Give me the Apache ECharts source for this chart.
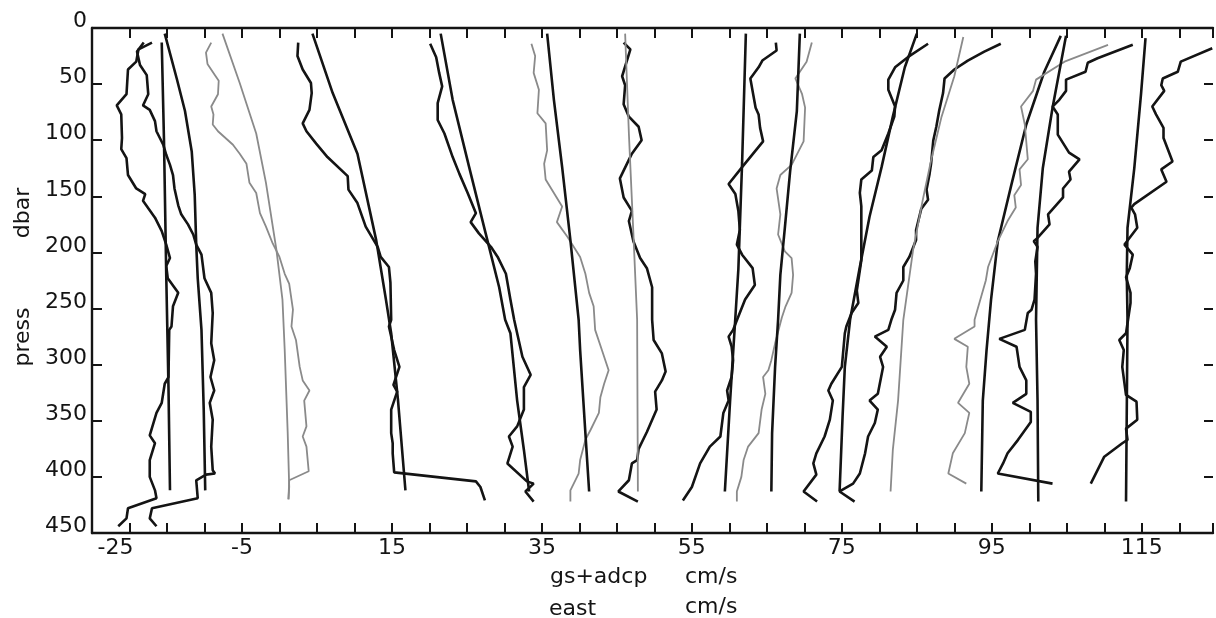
<!DOCTYPE html>
<html lang="en">
<head>
	<meta charset="UTF-8">
	<title>gs+adcp east profiles</title>
	<script src="https://cdn.jsdelivr.net/npm/echarts@6/dist/echarts.min.js"></script>
	<style>
		html, body { margin: 0; padding: 0; background: #fff; }
		#chart { width: 1216px; height: 618px; }
	</style>
</head>
<body>
	<div id="chart"></div>

	<script>
		// x tick labels (the first label sits on the -20 tick, as in the plot)
		var xLabelValues = [-20, -5, 15, 35, 55, 75, 95, 115];
		var xLabelTexts = ['-25', '-5', '15', '35', '55', '75', '95', '115'];

		// profiles: [east cm/s (offset), press dbar]
		var prof01 = [[-17,13],[-18.8,19],[-19.1,30],[-20.2,37],[-20.4,59],[-21.7,69],[-21.1,77],[-21,98],[-21.1,108],[-20.4,116],[-20.2,131],[-19.1,143],[-17.9,148],[-18.2,154],[-16.6,169],[-15.7,181],[-15.1,193],[-14.6,205],[-15.1,212],[-14.9,223],[-13.5,236],[-14.2,248],[-14.4,266],[-14.7,269],[-14.8,311],[-15.3,317],[-15.7,334],[-16.4,343],[-17.3,363],[-16.6,370],[-17.3,385],[-17.3,400],[-16.6,412],[-16.4,419],[-20.2,428],[-20.4,437],[-21.5,444]];
		var prof02 = [[-18.1,13],[-19,21],[-18.6,33],[-17.7,42],[-17.5,59],[-18.2,69],[-17.3,73],[-16.6,83],[-16.4,92],[-15.5,104],[-15.1,113],[-14.6,122],[-14.2,131],[-14,143],[-13.5,158],[-13.1,166],[-12.2,175],[-11.5,184],[-11.1,193],[-10.4,202],[-10,223],[-9.1,236],[-8.9,254],[-9.1,281],[-8.7,296],[-9.2,311],[-8.7,323],[-9.3,334],[-8.9,349],[-9.1,373],[-8.9,394],[-8.6,397],[-9.8,398],[-11.1,403],[-10.9,419],[-17,428],[-17.3,437],[-16.4,444]];
		var prof03 = [[-15.7,13],[-15.4,100],[-15.1,220],[-14.8,320],[-14.6,412]];
		var prof04 = [[-15.3,5],[-13.7,45],[-12.6,74],[-11.7,110],[-11.3,149],[-11.1,193],[-10.9,223],[-10.4,269],[-10.1,340],[-9.9,412]];
		var prof05 = [[-9.1,13],[-9.8,22],[-9.6,32],[-8.6,42],[-8.1,47],[-8.2,59],[-9.1,70],[-8.8,77],[-8.9,86],[-8.2,92],[-6.2,104],[-5.3,112],[-4.4,121],[-4,138],[-3.1,147],[-2.6,165],[-1.8,177],[-0.9,192],[0,204],[0.7,219],[1.3,228],[1.8,251],[1.6,266],[2.2,278],[2.7,302],[3.1,314],[4,323],[3.3,332],[3.6,355],[3.1,364],[3.6,373],[3.9,395],[1.3,403],[1.2,420]];
		var prof06 = [[-7.6,5],[-5.3,49],[-3.1,94],[-1.8,138],[-0.4,198],[0.4,242],[0.7,287],[1.1,361],[1.3,409],[1.2,420]];
		var prof07 = [[2.5,13],[2.4,25],[3.1,37],[4.2,49],[4.3,58],[4,73],[3.1,85],[3.6,92],[4.9,103],[6.4,115],[9.1,132],[9.2,144],[10.4,156],[11.5,177],[13.1,195],[13.5,204],[14.6,213],[14.8,227],[14.9,260],[14.6,266],[15.3,287],[16,302],[15.2,318],[15.7,324],[14.9,340],[14.9,361],[15.1,370],[15.1,379],[15.3,396],[26.2,404],[26.8,409],[27.4,421]];
		var prof08 = [[4.4,5],[7.1,58],[10.4,112],[12.9,189],[14.2,242],[14.9,272],[15.8,331],[16.8,412]];
		var prof09 = [[20.1,14],[20.9,26],[21.3,40],[21.7,52],[21.1,67],[21.1,82],[22,94],[23.1,115],[24,130],[25.1,147],[26.2,165],[25.5,173],[26.6,183],[28.2,195],[29.1,204],[30.2,219],[30.8,242],[31.3,260],[31.7,272],[32.4,293],[33.5,309],[32.6,320],[32.6,340],[31.7,355],[30.6,364],[31.1,373],[30.4,388],[33,404],[33.9,406],[32.8,413],[33.9,422]];
		var prof10 = [[21.5,5],[23.1,64],[25.3,124],[27.5,183],[29.3,231],[30.1,260],[30.8,272],[31.7,332],[32.6,376],[33.3,413]];
		var prof11 = [[33.6,14],[34.1,25],[33.9,40],[34.6,55],[34.4,76],[35.5,85],[35.7,109],[35.3,121],[35.5,135],[36.6,147],[37.7,159],[37,173],[38.4,186],[40.1,204],[40.8,219],[41.3,236],[41.9,248],[42.1,269],[43,287],[43.9,305],[43.3,317],[42.8,329],[42.6,343],[41.5,358],[40.8,367],[40.1,385],[39.9,397],[38.8,412],[38.8,422]];
		var prof12 = [[35.7,5],[36.6,64],[37.7,124],[38.8,189],[39.9,260],[40.1,287],[40.8,361],[41.3,413]];
		var prof13 = [[45.9,13],[46.8,19],[45.7,43],[46.1,51],[45.9,68],[46.6,79],[47.9,88],[48.3,100],[47,112],[45.4,134],[45.9,151],[47,163],[46.6,172],[47.2,190],[48.1,205],[49,214],[49.7,231],[49.7,260],[49.9,278],[51,290],[51.5,306],[51,314],[50.1,324],[50.3,340],[49,360],[47.9,375],[47.7,385],[47,388],[46.6,403],[45.2,413],[47.8,422]];
		var prof14 = [[46.1,5],[46.6,94],[47.2,183],[47.7,260],[47.8,413]];
		var prof15 = [[62.2,5],[61.7,120],[61.2,215],[60.8,258],[60.1,332],[59.4,413]];
		var prof16 = [[66.2,13],[66.3,20],[64.4,29],[63.9,35],[62.8,45],[63.2,60],[63.5,71],[63.9,77],[64.1,89],[64.5,101],[61.7,124],[59.9,139],[60.8,148],[61.2,163],[61.4,180],[61,193],[61.7,202],[63.1,214],[63.4,229],[62.1,242],[61.2,257],[60.5,269],[59.9,275],[60.3,284],[60.5,296],[60.3,311],[59.7,323],[59.9,332],[59.2,343],[58.8,364],[57.4,373],[56.1,388],[55,409],[53.8,421]];
		var prof17 = [[71,13],[70.3,30],[68.8,45],[69.7,59],[70.1,71],[69.9,101],[68.3,122],[66.8,131],[66.3,143],[66.8,166],[66.5,184],[67.4,199],[68.3,205],[68.5,220],[68.3,236],[67.5,248],[67,258],[66.1,281],[65.6,296],[65.2,305],[64.5,311],[64.8,326],[64.3,340],[63.9,361],[62.5,373],[61.9,385],[61.6,400],[61,413],[61,422]];
		var prof18 = [[69.4,5],[69,74],[68.1,128],[67.4,178],[66.8,220],[66.5,260],[66.1,302],[65.7,361],[65.6,413]];
		var prof19 = [[86.5,14],[83.8,26],[82.1,35],[81.2,46],[81.2,55],[82.1,70],[82,79],[81.2,94],[80.3,109],[79.2,115],[79,127],[77.6,135],[77.4,147],[77.6,159],[77.6,183],[77.6,207],[77,234],[77.2,245],[76.3,254],[75.6,266],[75.4,272],[75,302],[73.6,317],[73.2,323],[73.8,332],[73.4,349],[72.7,364],[71.6,379],[71.2,388],[71.6,398],[69.9,413],[71.7,422]];
		var prof20 = [[85,5],[83.4,35],[81.8,79],[80.3,124],[78.7,168],[77.4,213],[76.1,260],[75.4,302],[75.1,346],[74.7,413]];
		var prof21 = [[96.2,14],[94,21],[91.8,29],[90,37],[88.7,45],[88.5,58],[88,73],[87.6,88],[87.2,100],[86.9,121],[86.7,130],[86.3,144],[86.5,153],[85.6,161],[84.9,180],[84.9,189],[84,204],[83.2,213],[83.2,225],[82.3,236],[82.1,251],[81.6,260],[81.2,269],[79.4,275],[81,284],[80.1,293],[80.5,302],[79.8,326],[78.7,332],[79.8,340],[79.4,352],[78.5,364],[78.1,379],[77.4,397],[76.5,406],[74.7,413],[76.7,422]];
		var prof22 = [[91.2,8],[90,43],[88.3,79],[86.9,118],[85.8,153],[84.5,198],[83.2,260],[82.5,332],[81.8,376],[81.5,413]];
		var prof23 = [[104.2,7],[102,39],[99.6,86],[97.6,140],[95.8,190],[94.9,242],[94.3,287],[93.8,332],[93.6,413]];
		var prof24 = [[110.5,15],[104.7,30],[100.9,46],[100.5,56],[98.9,70],[99.4,86],[99.8,117],[98.7,126],[98.9,140],[98,149],[98.2,160],[97.1,172],[95.8,190],[94.5,213],[94.2,225],[92.7,260],[92.7,266],[90,277],[91.8,284],[91.6,302],[92,317],[90.5,334],[92,343],[91.4,361],[89.8,379],[89.2,397],[91.6,406]];
		var prof25 = [[104.9,7],[103.1,71],[101.8,125],[101.1,178],[100.9,260],[101.1,332],[101.2,422]];
		var prof26 = [[113.8,15],[109.1,27],[107.8,31],[107.5,39],[104.9,46],[104.9,56],[104,64],[103.1,70],[103.8,77],[103.8,95],[105.3,111],[106.7,117],[105.3,128],[105.5,135],[104.5,143],[104.5,151],[102.5,166],[102.7,175],[101.1,187],[100.6,190],[101.1,195],[100.8,208],[100.9,219],[100.7,242],[100.3,251],[99.8,254],[99.4,269],[96,277],[98.3,284],[98.7,302],[99.6,314],[99.6,326],[97.8,334],[100.2,342],[100.2,351],[98.5,367],[97.1,379],[96.5,388],[95.8,397],[103.1,406]];
		var prof27 = [[115.5,9],[114.9,59],[114,125],[113.1,178],[113,220],[113.1,260],[112.9,422]];
		var prof28 = [[124.4,18],[120.2,30],[119.8,39],[117.8,45],[117.6,51],[118,56],[116.4,70],[116.9,77],[117.9,89],[117.9,98],[119.1,119],[117.6,126],[118.3,137],[114,157],[113.6,160],[114.1,166],[114.4,178],[112.7,193],[113.8,202],[113.4,214],[112.9,222],[113.5,236],[113.5,245],[112.9,272],[112,278],[112.6,287],[112.4,302],[112.9,327],[114.3,333],[114.4,349],[112.9,357],[113.1,367],[112.4,370],[110,382],[108.2,406]];

		var INK = '#141414', GREY = '#8a8a8a';
		var FONT = 'DejaVu Sans';

		// which pen each profile was drawn with
		var lines = [
			[prof01, INK], [prof02, INK], [prof03, INK], [prof04, INK],
			[prof05, GREY], [prof06, GREY], [prof07, INK], [prof08, INK],
			[prof09, INK], [prof10, INK], [prof11, GREY], [prof12, INK],
			[prof13, INK], [prof14, GREY], [prof15, INK], [prof16, INK],
			[prof17, GREY], [prof18, INK], [prof19, INK], [prof20, INK],
			[prof21, INK], [prof22, GREY], [prof23, INK], [prof24, GREY],
			[prof25, INK], [prof26, INK], [prof27, INK], [prof28, INK]
		];

		var chart = echarts.init(document.getElementById('chart'), null, {renderer: 'canvas'});

		// frame lines sit on the grid edges, never on zero
		var axisLine = {onZero: false, lineStyle: {color: INK, width: 2.4}};
		var tick = {inside: true, length: 10, lineStyle: {color: INK, width: 2}};

		var option = {
			animation: false,
			backgroundColor: '#fff',
			grid: {left: 92, right: 0, top: 28, bottom: 85, containLabel: false},
			xAxis: [
				{
					type: 'value', position: 'bottom', min: -25, max: 124.5, interval: 5,
					splitLine: {show: false}, axisLine: axisLine, axisTick: tick,
					axisLabel: {
						interval: 0, margin: 4, color: INK, fontFamily: FONT, fontSize: 22,
						formatter: function (v) {
							var i = xLabelValues.indexOf(v);
							if (i < 0) return '';
							return i === 0 ? '{first|' + xLabelTexts[i] + '}' : xLabelTexts[i];
						},
						rich: {first: {fontFamily: FONT, fontSize: 22, color: INK, padding: [0, 28, 0, 0]}}
					}
				},
				{
					type: 'value', position: 'top', min: -25, max: 124.5, interval: 5,
					splitLine: {show: false}, axisLine: axisLine, axisTick: tick,
					axisLabel: {show: false}
				}
			],
			yAxis: [
				{
					type: 'value', position: 'left', inverse: true, min: 0, max: 450, interval: 50,
					splitLine: {show: false}, axisLine: axisLine, axisTick: tick,
					axisLabel: {
						margin: 5, color: INK, fontFamily: FONT, fontSize: 22,
						verticalAlign: 'bottom', lineHeight: 13
					}
				},
				{
					// the right frame edge falls just outside the picture: only its ticks show
					type: 'value', position: 'right', inverse: true, min: 0, max: 450, interval: 50,
					splitLine: {show: false}, axisLine: {show: false, onZero: false},
					axisTick: {inside: true, length: 9, lineStyle: {color: INK, width: 2}},
					axisLabel: {show: false}
				}
			],
			series: lines.map(function (l) {
				return {
					type: 'line', data: l[0], showSymbol: false, symbol: 'none',
					silent: true, clip: true,
					lineStyle: {color: l[1], width: l[1] === INK ? 2.6 : 1.8}
				};
			}),
			graphic: [
				// y axis title, written bottom to top
				{type: 'text', x: 23, y: 337, rotation: Math.PI / 2,
					style: {text: 'press', font: '22px ' + FONT, fill: INK, align: 'center', verticalAlign: 'middle'}},
				{type: 'text', x: 23, y: 213, rotation: Math.PI / 2,
					style: {text: 'dbar', font: '22px ' + FONT, fill: INK, align: 'center', verticalAlign: 'middle'}},
				// x axis title, two lines
				{type: 'text', x: 550, y: 566,
					style: {text: 'gs+adcp', font: '22px ' + FONT, fill: INK}},
				{type: 'text', x: 685, y: 566,
					style: {text: 'cm/s', font: '22px ' + FONT, fill: INK}},
				{type: 'text', x: 549, y: 598,
					style: {text: 'east', font: '22px ' + FONT, fill: INK}},
				{type: 'text', x: 685, y: 596,
					style: {text: 'cm/s', font: '22px ' + FONT, fill: INK}}
			]
		};
		chart.setOption(option);
	</script>
</body>
</html>
